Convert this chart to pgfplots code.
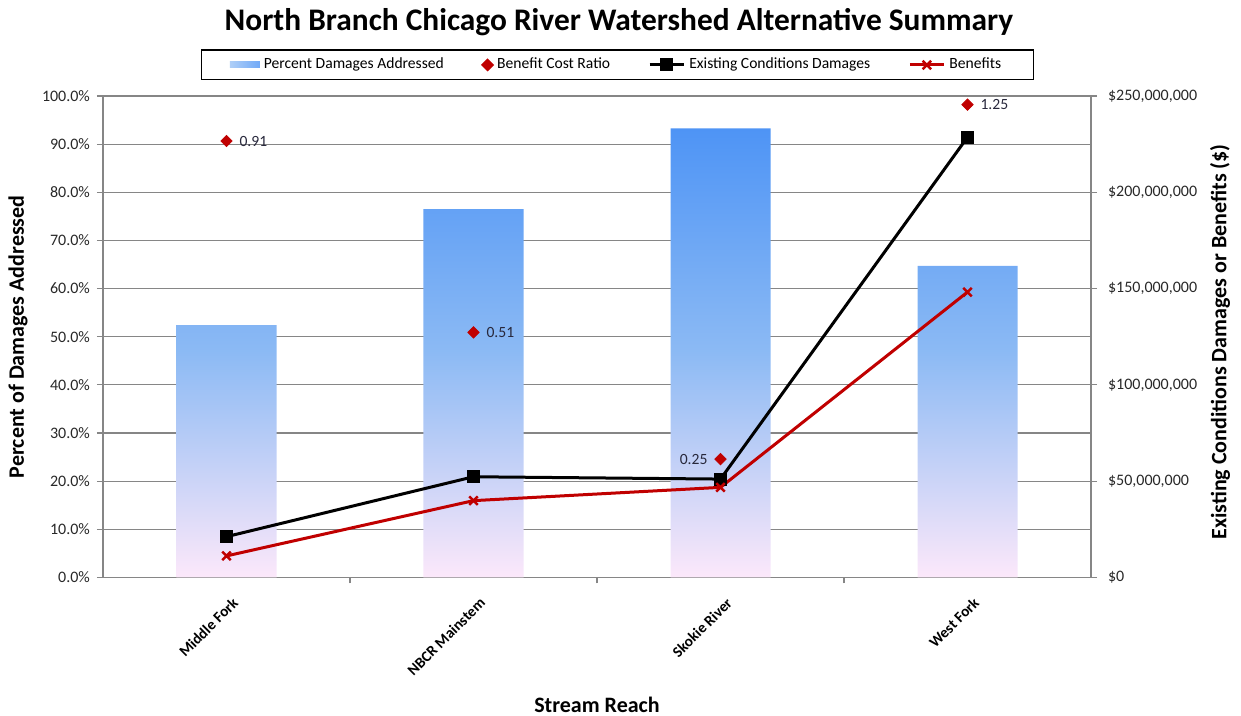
\documentclass[border=0pt]{standalone}
\usepackage{pgfplots}
\pgfplotsset{compat=1.18}
\usepackage{fontspec}
\setmainfont{Carlito}
\definecolor{barTop}{RGB}{78,148,245}
\definecolor{barMid}{RGB}{140,186,244}
\definecolor{barBot}{RGB}{252,232,250}
\definecolor{axgray}{RGB}{134,134,134}
\definecolor{darkred}{RGB}{192,0,0}
\definecolor{lblcol}{RGB}{40,40,60}
\definecolor{tickcol}{RGB}{40,40,40}
\begin{document}
\begin{tikzpicture}
\path[use as bounding box] (-51.5pt,-69.25pt) rectangle (569pt,288.75pt);
% ---------- left axis: bars + benefit cost ratio ----------
\begin{axis}[
  at={(0pt,0pt)}, anchor=south west,
  scale only axis, width=494pt, height=240.75pt,
  xmin=-0.5, xmax=3.5, ymin=0, ymax=100,
  axis line style={axgray, line width=0.6pt},
  ytick={0,10,...,100},
  yticklabels={0.0\%,10.0\%,20.0\%,30.0\%,40.0\%,50.0\%,60.0\%,70.0\%,80.0\%,90.0\%,100.0\%},
  ytick pos=left, xtick pos=bottom,
  ymajorgrids, grid style={axgray, line width=0.6pt},
  tick align=outside, major tick length=3pt,
  tick style={axgray, line width=0.6pt},
  xtick={0.5,1.5,2.5}, xticklabels={},
  extra x ticks={0,1,2,3},
  extra x tick labels={Middle Fork, NBCR Mainstem, Skokie River, West Fork},
  extra x tick style={major tick length=0pt, grid=none},
  xticklabel style={font=\bfseries\fontsize{7.6}{9}\selectfont, rotate=45, anchor=north east, text=black, xshift=-1.5pt, yshift=-5pt},
  yticklabel style={font=\fontsize{8}{9.5}\selectfont, text=tickcol},
]
\addplot[ybar, bar width=50pt, bar shift=0pt, draw=none,
  top color=barTop, bottom color=barBot, middle color=barMid]
  coordinates {(0,52.4) (1,76.5) (2,93.3) (3,64.7)};
\addplot[only marks, mark=square*, mark size=2pt, mark options={rotate=45}, darkred,
  nodes near coords, point meta=explicit symbolic,
  nodes near coords style={anchor=west, xshift=3pt, font=\fontsize{7.8}{9}\selectfont, text=lblcol}]
  table[meta=lab] {
x y lab
0 90.65 0.91
1 50.9 0.51
3 98.2 1.25
};
\addplot[only marks, mark=square*, mark size=2pt, mark options={rotate=45}, darkred,
  nodes near coords, point meta=explicit symbolic,
  nodes near coords style={anchor=east, xshift=-3pt, font=\fontsize{7.8}{9}\selectfont, text=lblcol}]
  table[meta=lab] {
x y lab
2 24.6 0.25
};
\end{axis}
% ---------- right axis: damages and benefits ----------
\begin{axis}[
  at={(0pt,0pt)}, anchor=south west,
  scale only axis, width=494pt, height=240.75pt,
  xmin=-0.5, xmax=3.5, ymin=0, ymax=250,
  axis x line=none, axis y line*=right,
  axis line style={axgray, line width=0.6pt},
  ytick={0,50,...,250},
  yticklabels={{\$0},{\$50,000,000},{\$100,000,000},{\$150,000,000},{\$200,000,000},{\$250,000,000}},
  tick align=outside, major tick length=3pt,
  tick style={axgray, line width=0.6pt},
  yticklabel style={font=\fontsize{8}{9.5}\selectfont, text=tickcol, xshift=2pt},
  legend columns=4,
  legend cell align=left,
  legend style={at={(axis description cs:0.5207,1.0644)}, anchor=center,
    draw=black, line width=0.6pt, font=\fontsize{7.8}{9}\selectfont,
    /tikz/every even column/.append style={column sep=17pt},
    inner xsep=14pt, inner ysep=2pt},
]
\addlegendimage{legend image code/.code={\path[draw=none, left color=barMid!70, right color=barTop!80] (0pt,-1.2pt) rectangle (15pt,1.8pt);}}
\addlegendentry{Percent Damages Addressed}
\addlegendimage{only marks, mark=square*, mark size=2pt, mark options={rotate=45}, darkred}
\addlegendentry{Benefit Cost Ratio}
\addplot[black, line width=1.5pt, mark=square*, mark size=2.5pt]
  coordinates {(0,21.2) (1,52.3) (2,51.1) (3,228.6)};
\addlegendentry{Existing Conditions Damages}
\addplot[darkred, line width=1.5pt, mark=x, mark size=3pt, mark options={line width=1.2pt}]
  coordinates {(0,11.2) (1,39.9) (2,46.8) (3,148.2)};
\addlegendentry{Benefits}
\end{axis}
% ---------- titles ----------
\node[font=\bfseries\fontsize{15.7}{18}\selectfont] at (258pt,277.75pt) {North Branch Chicago River Watershed Alternative Summary};
\node[font=\bfseries\fontsize{11}{13}\selectfont, rotate=90] at (-42.5pt,120.4pt) {Percent of Damages Addressed};
\node[font=\bfseries\fontsize{11}{13}\selectfont, rotate=90] at (558.5pt,117.75pt) {Existing Conditions Damages or Benefits (\$)};
\node[font=\bfseries\fontsize{11}{13}\selectfont] at (247pt,-63.75pt) {Stream Reach};
\end{tikzpicture}
\end{document}
